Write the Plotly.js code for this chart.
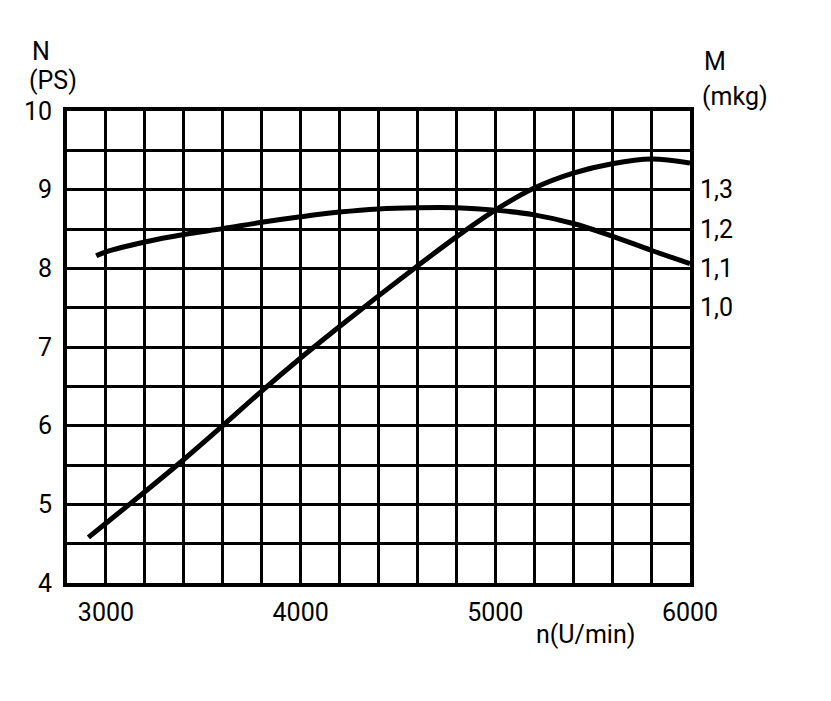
<!DOCTYPE html>
<html>
<head>
<meta charset="utf-8">
<script src="https://cdn.plot.ly/plotly-3.0.1.min.js"></script>
<style>
  html, body { margin: 0; padding: 0; background: #fff; }
  #chart { width: 831px; height: 701px; }
</style>
</head>
<body>
<div id="chart"></div>
<script>
// engine speed n (U/min) and power N (PS)
var rpmPower = [2910, 3000, 3200, 3400, 3600, 3800, 4000, 4200, 4400, 4600, 4800, 5000, 5200, 5400, 5600, 5800, 6000];
var powerPS  = [4.58, 4.76, 5.16, 5.57, 6.00, 6.44, 6.86, 7.26, 7.65, 8.03, 8.40, 8.74, 9.02, 9.21, 9.33, 9.39, 9.34];

// torque M (mkg)
var rpmTorque = [2950, 3000, 3200, 3400, 3600, 3800, 4000, 4200, 4400, 4600, 4800, 5000, 5200, 5400, 5600, 5800, 6000];
var torqueMkg = [1.132, 1.142, 1.167, 1.186, 1.201, 1.217, 1.231, 1.243, 1.251, 1.254, 1.254, 1.248, 1.236, 1.214, 1.182, 1.146, 1.112];

var torqueTicks = [1.0, 1.1, 1.2, 1.3];
var torqueLabels = ['1,0', '1,1', '1,2', '1,3'];

var FONT = 'Roboto, "DejaVu Sans Condensed", sans-serif';

var power = {
  x: rpmPower, y: powerPS,
  type: 'scatter', mode: 'lines',
  line: { color: '#000', width: 5, shape: 'spline', smoothing: 1 },
  hoverinfo: 'skip'
};

var torque = {
  x: rpmTorque, y: torqueMkg, yaxis: 'y2',
  type: 'scatter', mode: 'lines',
  line: { color: '#000', width: 5, shape: 'spline', smoothing: 1 },
  hoverinfo: 'skip'
};

var layout = {
  width: 831, height: 701,
  margin: { l: 67, r: 141, t: 111, b: 118 },
  paper_bgcolor: '#fff', plot_bgcolor: '#fff',
  showlegend: false,
  font: { family: FONT, size: 25, color: '#000' },
  xaxis: {
    range: [2800, 6000], dtick: 1000, tick0: 0,
    showgrid: true, gridcolor: '#000', gridwidth: 3,
    minor: { dtick: 200, showgrid: true, gridcolor: '#000', gridwidth: 3 },
    showline: true, linecolor: '#000', linewidth: 4, mirror: true,
    zeroline: false, ticks: '', ticklabelstandoff: 4
  },
  yaxis: {
    range: [4, 10], dtick: 1,
    showgrid: true, gridcolor: '#000', gridwidth: 3,
    minor: { dtick: 0.5, showgrid: true, gridcolor: '#000', gridwidth: 3 },
    showline: true, linecolor: '#000', linewidth: 4, mirror: true,
    zeroline: false, ticks: '', ticklabelstandoff: 6
  },
  yaxis2: {
    overlaying: 'y', side: 'right',
    range: [0.3, 1.5],
    tickmode: 'array', tickvals: torqueTicks, ticktext: torqueLabels,
    showgrid: false, zeroline: false, showline: false,
    ticks: '', ticklabelstandoff: 9
  },
  annotations: [
    { text: 'N', xref: 'paper', yref: 'paper', x: -0.060, y: 1.127,
      xanchor: 'left', yanchor: 'middle', showarrow: false },
    { text: '(PS)', xref: 'paper', yref: 'paper', x: -0.064, y: 1.064,
      xanchor: 'left', yanchor: 'middle', showarrow: false },
    { text: 'M', xref: 'paper', yref: 'paper', x: 1.019, y: 1.104,
      xanchor: 'left', yanchor: 'middle', showarrow: false },
    { text: '(mkg)', xref: 'paper', yref: 'paper', x: 1.016, y: 1.030,
      xanchor: 'left', yanchor: 'middle', showarrow: false },
    { text: 'n(U/min)', xref: 'paper', yref: 'paper', x: 0.833, y: -0.110,
      xanchor: 'center', yanchor: 'middle', showarrow: false }
  ]
};

Plotly.newPlot('chart', [power, torque], layout, { staticPlot: true, displayModeBar: false });
</script>
</body>
</html>
